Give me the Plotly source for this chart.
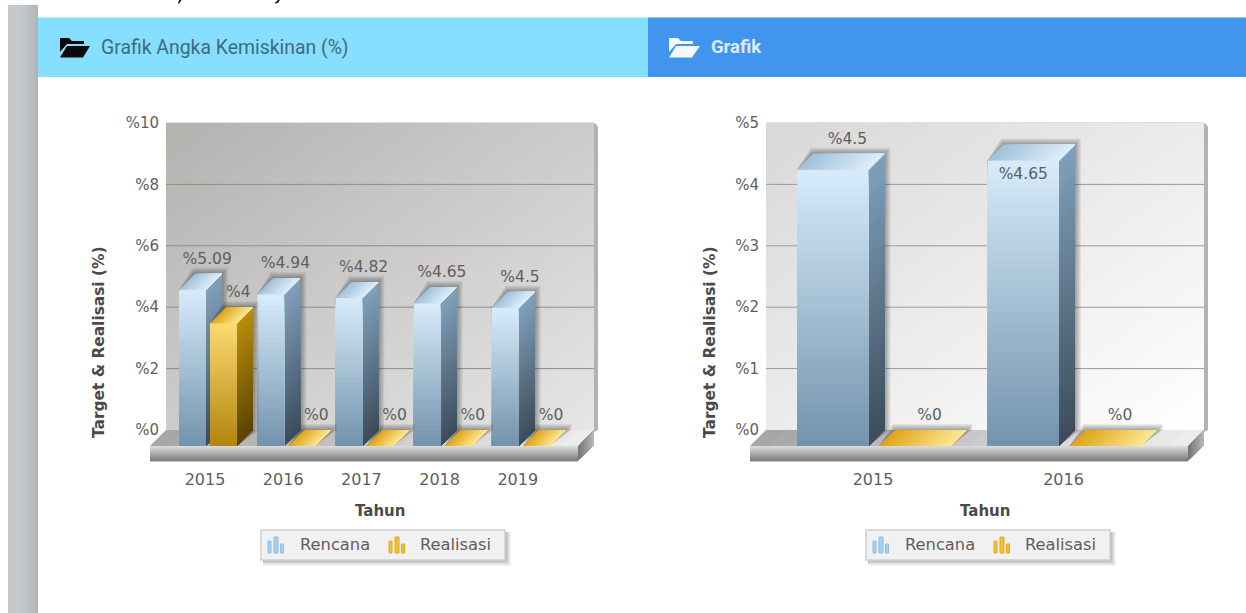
import numpy as np
import plotly.graph_objects as go

# ---------- data ----------
years_left = ["2015", "2016", "2017", "2018", "2019"]
rencana_left = [5.09, 4.94, 4.82, 4.65, 4.5]
realisasi_left = [4, 0, 0, 0, 0]
years_right = ["2015", "2016"]
rencana_right = [4.5, 4.65]
realisasi_right = [0, 0]
ticks_left = [0, 2, 4, 6, 8, 10]
ticks_right = [0, 1, 2, 3, 4, 5]
series_names = ["Rencana", "Realisasi"]
y_title = "Target & Realisasi (%)"
x_title = "Tahun"
header_left = "Grafik Angka Kemiskinan (%)"
header_right = "Grafik"

# ---------- geometry / style ----------
W, H = 1246, 613
FONT = "DejaVu Sans"
TXT = "#5e5e5e"
DEPTH = 16
PAL = [
    dict(front=("#d6eafa", "#7494ae"), side=("#7f9fb9", "#3d4d5b"), top=("#a2c2da", "#dcedf9"), base="#a5c0d6"),
    dict(front=("#fbd970", "#b4860f"), side=("#b98c0c", "#5a4404"), top=("#dfa61a", "#fde590"), base="#d8a92c"),
]


def fx(x):
    return x / W


def fy(y):
    return 1 - y / H


def hex2rgb(c):
    return tuple(int(c[i:i + 2], 16) for i in (1, 3, 5))


def mix(c1, c2, t):
    a, b = hex2rgb(c1), hex2rgb(c2)
    return "rgb(%d,%d,%d)" % tuple(round(a[i] + (b[i] - a[i]) * t) for i in range(3))


fig = go.Figure()
shapes, annotations, axes = [], [], {}


def rect(x0, y0, x1, y1, color, layer="below", line=None):
    shapes.append(dict(type="rect", xref="paper", yref="paper", x0=fx(x0), x1=fx(x1), y0=fy(y0), y1=fy(y1),
                       fillcolor=color, layer=layer, line=line or dict(width=0)))


def poly(points, color, layer="below"):
    path = "M" + " L".join("%.5f,%.5f" % (fx(a), fy(b)) for a, b in points) + " Z"
    shapes.append(dict(type="path", xref="paper", yref="paper", path=path, fillcolor=color,
                       layer=layer, line=dict(width=0)))


def label(x, y, text, size=15, color=TXT, bold=False, angle=0, family=FONT, anchor="center"):
    annotations.append(dict(xref="paper", yref="paper", x=fx(x), y=fy(y), text=text, showarrow=False,
                            textangle=angle, xanchor=anchor, yanchor="middle",
                            font=dict(family=family, size=size, color=color,
                                      weight="bold" if bold else "normal")))


def fill_trace(xs, ys, color, xa, ya):
    fig.add_trace(go.Scatter(x=xs, y=ys, mode="lines", fill="toself", fillcolor=color,
                             line=dict(width=0), hoverinfo="skip", showlegend=False, xaxis=xa, yaxis=ya))


def panel(idx, years, rencana, realisasi, ticks, g):
    wall_id = 2 * idx + 1
    front_id = 2 * idx + 2
    wx, wy = "x%d" % wall_id if wall_id > 1 else "x", "y%d" % wall_id if wall_id > 1 else "y"
    fxa, fya = "x%d" % front_id, "y%d" % front_id
    L, R, T, B = g["wall"]
    top_val = ticks[-1]
    unit = (B - T) / top_val

    # wall
    n = 30
    grid = np.linspace(0, 1, n)
    z = [[(a + (1 - b)) / 2 for a in grid] for b in grid]
    fig.add_trace(go.Heatmap(x=grid, y=np.linspace(0, top_val, n), z=z, zmin=0, zmax=1, zsmooth="best",
                             colorscale=[[0, g["wall_c"][0]], [1, g["wall_c"][1]]], showscale=False,
                             hoverinfo="skip", xaxis=wx, yaxis=wy))
    gx, gy = [], []
    for t in ticks[1:-1]:
        gx += [0, 1, None]
        gy += [t, t, None]
    fig.add_trace(go.Scatter(x=gx, y=gy, mode="lines", line=dict(color=g["grid"], width=1), hoverinfo="skip",
                             showlegend=False, xaxis=wx, yaxis=wy))
    axes["xaxis" if wall_id == 1 else "xaxis%d" % wall_id] = dict(
        domain=[fx(L), fx(R)], range=[0, 1], visible=False, anchor=wy, fixedrange=True, automargin=False)
    axes["yaxis" if wall_id == 1 else "yaxis%d" % wall_id] = dict(
        domain=[fy(B), fy(T)], range=[0, top_val], anchor=wx, tickmode="array", tickvals=ticks,
        ticktext=["%" + str(t) for t in ticks], showgrid=False, zeroline=False, showline=False,
        ticks="outside", ticklen=3, tickcolor="rgba(0,0,0,0)", automargin=False,
        tickfont=dict(family=FONT, size=15, color=TXT), fixedrange=True)

    # wall edge on the right and top light rim
    poly([(R, T), (R + 2, T + 1), (R + 4, T + 4), (R + 4, B), (R, B + 2)], "#b3b3b3")
    rect(L, T - 1, R, T, "#e0e0e0")

    # floor + plinth
    FL = L - DEPTH
    FR = R - DEPTH
    FB = B + DEPTH
    PB = FB + 15
    steps = 24
    for i in range(steps):
        a = L + (R - L) * i / steps
        c = mix(g["floor"][0], g["floor"][1], i / (steps - 1))
        poly([(a, B), (R, B), (FR, FB), (a - DEPTH, FB)], c)
    for i in range(15):
        rect(FL, FB + i, FR, PB, mix("#dadada", "#7d7d7d", i / 14))
    for i in range(8):
        a = FR + DEPTH * i / 8
        poly([(a, FB - DEPTH * i / 8), (R, B), (R, B + 15), (a, PB - DEPTH * i / 8)], mix("#777777", "#b5b5b5", i / 7))
    rect(FL, PB, FR, PB + 1, "#c9c9c9")

    # front plane
    sp = g["spacing"]
    c0 = g["first_center"]
    dx, dy = DEPTH / sp, DEPTH / unit
    pos = list(range(len(years)))
    axes["xaxis%d" % front_id] = dict(
        domain=[fx(FL), fx(FR)], range=[(FL - c0) / sp, (FR - c0) / sp], anchor=fya, tickmode="array",
        tickvals=pos, ticktext=years, showgrid=False, zeroline=False, showline=False, ticks="outside",
        ticklen=4, tickcolor="rgba(0,0,0,0)", tickfont=dict(family=FONT, size=16, color=TXT), fixedrange=True,
        automargin=False)
    axes["yaxis%d" % front_id] = dict(
        domain=[fy(PB), fy(T)], range=[-(PB - FB) / unit, (FB - T) / unit], anchor=fxa, visible=False,
        fixedrange=True, automargin=False)

    bw = g["bar_w"] / sp
    offsets = [o / sp for o in g["offsets"]]
    all_vals = [rencana, realisasi]

    for s, vals in enumerate(all_vals):
        fig.add_trace(go.Bar(x=pos, y=vals, width=bw, offset=offsets[s], name=series_names[s],
                             marker=dict(color=PAL[s]["base"], line=dict(width=0)), showlegend=False,
                             hoverinfo="skip", xaxis=fxa, yaxis=fya))

    for s, vals in enumerate(all_vals):
        x0s = [p + offsets[s] for p in pos]
        x1s = [a + bw for a in x0s]
        # soft shadow
        for k in (6, 5, 4, 3, 2, 1):
            xs, ys = [], []
            ex, ey = k / sp, k / unit
            for a, b, v in zip(x0s, x1s, vals):
                xs += [a, a, a + dx - ex * .4, b + dx + ex, b + dx + ex, b, None]
                ys += [0, v, v + dy + ey, v + dy + ey, dy, 0, None]
            fill_trace(xs, ys, "rgba(40,40,40,0.075)", fxa, fya)
        # side face
        N = g["levels"]
        for t in range(N):
            xs, ys = [], []
            for a, b, v in zip(x0s, x1s, vals):
                if v <= 0:
                    continue
                h = v * (1 - t / N)
                xs += [b, b + dx, b + dx, b, None]
                ys += [0, dy, h + dy, h, None]
            if xs:
                fill_trace(xs, ys, mix(*PAL[s]["side"], t / (N - 1)), fxa, fya)
        # top face
        M = 20
        for t in range(M):
            xs, ys = [], []
            for a, b, v in zip(x0s, x1s, vals):
                q = a + (b - a) * t / M
                xs += [q, b, b + dx, q + dx, None]
                ys += [v, v, v + dy, v + dy, None]
            fill_trace(xs, ys, mix(*PAL[s]["top"], t / (M - 1)), fxa, fya)
        # front face
        for t in range(N):
            xs, ys = [], []
            for a, b, v in zip(x0s, x1s, vals):
                if v <= 0:
                    continue
                h = v * (1 - t / N)
                xs += [a, b, b, a, None]
                ys += [0, 0, h, h, None]
            if xs:
                fill_trace(xs, ys, mix(*PAL[s]["front"], t / (N - 1)), fxa, fya)

    # value labels
    lift = 14 / unit
    for s, vals in enumerate(all_vals):
        xs, ys, tx = [], [], []
        for p, v in zip(pos, vals):
            mid = p + offsets[s] + bw / 2
            y = v + dy + lift
            if FB - y * unit < T + 10:      # no room above: the label sits inside the column
                xs.append(mid)
                ys.append(v - 15 / unit)
            else:
                xs.append(mid + dx * 0.92)
                ys.append(y)
            tx.append("%" + str(v))
        fig.add_trace(go.Scatter(x=xs, y=ys, mode="text", text=tx, textposition="middle center",
                                 textfont=dict(family=FONT, size=15.5, color=TXT), hoverinfo="skip",
                                 showlegend=False, xaxis=fxa, yaxis=fya))

    # titles
    label((L + R) / 2, 510.5, x_title, size=15, bold=True, color="#4a4a4a")
    label(g["ytitle_x"], 342, y_title, size=15.4, bold=True, color="#4a4a4a", angle=-90)

    # legend
    lx = g["legend_x"]
    for k, a in ((6, .05), (5, .06), (4, .07), (3, .08), (2, .1)):
        rect(lx + 2, 532, lx + 245 + k - 1, 561 + k - 1, "rgba(60,60,60,%.2f)" % a)
    rect(lx, 530, lx + 244, 560, "#f1f1f1", line=dict(color="#cfcfcf", width=1.5))
    for s, (ix, tx) in enumerate(((lx + 7, lx + 37), (lx + 128, lx + 157))):
        fc, ec = (("#a9d0ee", "#8fbde2"), ("#efc03c", "#e0ab1c"))[s]
        for bx, by, bw2 in ((0, 541, 3), (6, 537, 4), (12.5, 544, 3)):
            rect(ix + bx, by, ix + bx + bw2, 553, fc, line=dict(color=ec, width=1))
        label(tx, 544, series_names[s], size=16.3, anchor="left")


# page background
for i in range(30):
    rect(8 + i, 5, 9 + i, H, mix("#c6c9ca", "#aeb3b5", (i / 29) ** 3))
rect(38, 17, 648, 77, "#87dfff")
rect(648, 17, W, 77, "#4195ef")
rect(38, 17, 1246, 18, "rgba(255,255,255,0.45)")

# ends of the cut-off line above the panels
poly([(179, 0), (181.5, 0), (179.5, 3.5), (178, 3.5)], "#222222")
poly([(278, 0), (280, 0), (278, 3), (275, 3.5), (275, 2.5)], "#222222")

# folder icons
poly([(60, 38), (69, 38), (72, 41), (84, 41), (84, 44), (67, 44), (60, 52)], "#0a0a0a")
poly([(67, 46), (90, 46), (83, 57.5), (60, 57.5)], "#0a0a0a")
poly([(669, 38), (678, 38), (681, 41), (693, 41), (693, 44), (676, 44), (669, 52)], "#f4f8fd")
poly([(676, 46), (700, 46), (692, 57.5), (669, 57.5)], "#f4f8fd")

label(99, 47, header_left, size=19.4, color="#3f6b80", anchor="left", family="Roboto")
label(709, 47, header_right, size=18.5, color="#dcebfb", anchor="left", family="Roboto", bold=True)

panel(0, years_left, rencana_left, realisasi_left, ticks_left, dict(
    wall=(166, 594, 123, 430), spacing=78.2, first_center=205, bar_w=27, offsets=(-26, 5), levels=28,
    wall_c=("#b3b2af", "#e6e6e6"), grid="#8e8e86", floor=("#a6a6a6", "#ececec"),
    ytitle_x=99, legend_x=261))
panel(1, years_right, rencana_right, realisasi_right, ticks_right, dict(
    wall=(766, 1204, 123, 430), spacing=190.5, first_center=873, bar_w=71.5, offsets=(-76, 6), levels=40,
    wall_c=("#d8d8d8", "#ffffff"), grid="#9a9a9a", floor=("#a6a6a6", "#ececec"),
    ytitle_x=710, legend_x=866))

fig.update_layout(width=W, height=H, margin=dict(l=0, r=0, t=0, b=0, autoexpand=False), paper_bgcolor="white",
                  plot_bgcolor="rgba(0,0,0,0)", showlegend=False, barmode="overlay", shapes=shapes,
                  annotations=annotations, **axes)
fig.write_html("out.html", config=dict(displayModeBar=False),
               post_script="document.body.style.margin='0';document.body.style.overflow='hidden';")
